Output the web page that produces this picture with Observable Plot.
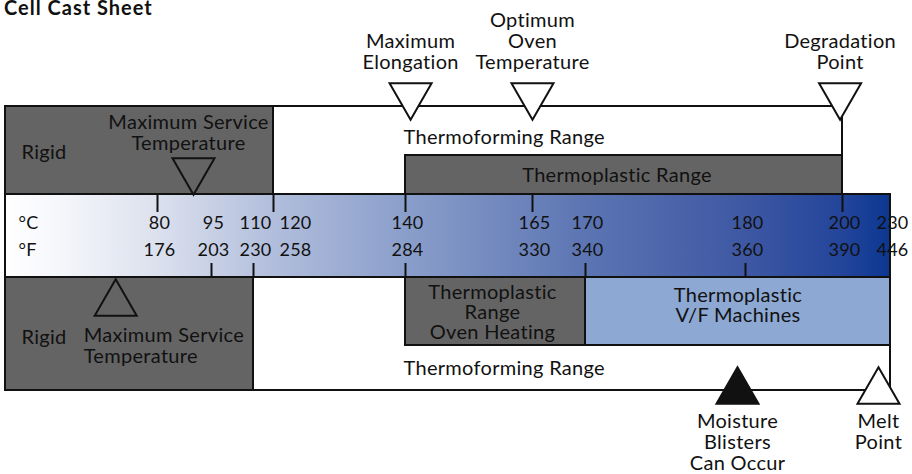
<!DOCTYPE html>
<html>
<head>
<meta charset="utf-8">
<script src="https://cdn.jsdelivr.net/npm/d3@7"></script>
<script src="https://cdn.jsdelivr.net/npm/@observablehq/plot@0.6"></script>
<style>
  body { margin: 0; background: #fff; font-family: Lato, sans-serif; }
  #title { height: 14px; line-height: 14px; font-weight: bold; font-size: 20px; letter-spacing: 1px; padding-left: 4px; color: #111; white-space: nowrap; }
  #chart svg { display: block; overflow: visible; }
</style>
</head>
<body>
<div id="title">Cell Cast Sheet</div>
<div id="chart"></div>
<script>
// ---- data ----
const celsius = [80, 95, 110, 120, 140, 165, 170, 180, 200, 230];
const fahrenheit = [176, 203, 230, 258, 284, 330, 340, 360, 390, 446];
const upperTicks = [80, 115, 140, 165, 200];
const lowerTicks = [95, 110, 140, 170, 180];

const upperRange = [{name: "Thermoforming Range", from: 0, to: 200}];
const upperRigid = [{name: "Rigid", from: 0, to: 115}];
const upperPlastic = [{name: "Thermoplastic Range", from: 140, to: 200}];

const lowerRange = [{name: "Thermoforming Range", from: 0, to: 230}];
const lowerRigid = [{name: "Rigid", from: 0, to: 110}];
const lowerOven = [{name: "Thermoplastic\nRange\nOven Heating", from: 140, to: 170}];
const lowerMachines = [{name: "Thermoplastic\nV/F Machines", from: 170, to: 230}];

const upperMarkers = [
  {label: "Maximum\nElongation", t: 141},
  {label: "Optimum\nOven\nTemperature", t: 165},
  {label: "Degradation\nPoint", t: 199.5}
];
const upperService = [{label: "Maximum Service\nTemperature", t: 90}];
const lowerService = [{label: "Maximum Service\nTemperature", t: 58}];
const lowerMarkers = [
  {label: "Moisture\nBlisters\nCan Occur", t: 179.5, filled: true},
  {label: "Melt\nPoint", t: 222.5, filled: false}
];

// ---- scales ----
const xScale = {
  type: "linear",
  domain: [0, 80, 95, 110, 120, 140, 165, 170, 180, 200, 230],
  range: [5, 157, 211, 253, 293, 405, 532, 585, 745, 842, 890],
  axis: null
};
const xs = Plot.scale({x: xScale});
const mid = (a, b) => xs.invert((xs.apply(a) + xs.apply(b)) / 2);

const INK = "#111";
const GRAY = "#646464";
const FS = 20;
const LH = 21 / FS;
const TRI_R = 15.6;

const gradient = () => {
  const ns = "http://www.w3.org/2000/svg";
  const defs = document.createElementNS(ns, "defs");
  const lg = document.createElementNS(ns, "linearGradient");
  lg.setAttribute("id", "bandGrad");
  lg.setAttribute("x1", "0"); lg.setAttribute("x2", "1");
  lg.setAttribute("y1", "0"); lg.setAttribute("y2", "0");
  [[0, "#ffffff"], [0.06, "#f6f7fb"], [0.17, "#dce1ee"], [0.30, "#b2bedc"],
   [0.45, "#8b9fcb"], [0.66, "#5b74b2"], [0.84, "#3d57a3"], [0.95, "#22449a"], [1, "#0b3791"]]
    .forEach(([o, c]) => {
      const s = document.createElementNS(ns, "stop");
      s.setAttribute("offset", o);
      s.setAttribute("stop-color", c);
      lg.appendChild(s);
    });
  defs.appendChild(lg);
  return defs;
};

const box = (data, y1, y2, fill) =>
  Plot.rect(data, {x1: "from", x2: "to", y1: () => y1, y2: () => y2, fill, stroke: INK, strokeWidth: 2});

const tickText = {fill: INK, fontSize: 18, style: "letter-spacing:0"};

const chart = Plot.plot({
  width: 912,
  height: 460,
  margin: 0,
  x: xScale,
  y: {type: "linear", domain: [14, 474], range: [0, 460], axis: null},
  style: {fontFamily: "Lato, sans-serif", fontSize: FS + "px", letterSpacing: "0.3px", color: INK, background: "white", overflow: "visible"},
  marks: [
    gradient,
    // upper section
    box(upperRange, 106, 194, "white"),
    box(upperRigid, 106, 194, GRAY),
    box(upperPlastic, 155, 194, GRAY),
    // lower section
    box(lowerRange, 277, 390, "white"),
    box(lowerRigid, 277, 390, GRAY),
    box(lowerOven, 277, 345, GRAY),
    box(lowerMachines, 277, 345, "#8ca8d3"),
    // temperature band
    Plot.rect([{from: 0, to: 230}], {x1: "from", x2: "to", y1: () => 194, y2: () => 277, fill: "url(#bandGrad)", stroke: INK, strokeWidth: 2}),
    Plot.ruleX(upperTicks, {x: d => d, y1: () => 194, y2: () => 212, stroke: INK, strokeWidth: 2}),
    Plot.ruleX(lowerTicks, {x: d => d, y1: () => 263, y2: () => 277, stroke: INK, strokeWidth: 2}),
    Plot.text(["°C"], {x: () => 0, y: () => 223, dx: 13, textAnchor: "start", text: d => d, ...tickText}),
    Plot.text(["°F"], {x: () => 0, y: () => 250, dx: 13, textAnchor: "start", text: d => d, ...tickText}),
    Plot.text(celsius, {x: d => d, y: () => 223, dx: 2, text: d => String(d), ...tickText}),
    Plot.text(fahrenheit, {x: (d, i) => celsius[i], y: () => 250, dx: 2, text: d => String(d), ...tickText}),
    // box labels
    Plot.text(upperRange, {x: () => 140, y: () => 137, textAnchor: "start", dx: -2, text: "name", fill: INK}),
    Plot.text(lowerRange, {x: () => 140, y: () => 368, textAnchor: "start", dx: -2, text: "name", fill: INK}),
    Plot.text(upperRigid, {x: "from", y: () => 152, textAnchor: "start", dx: 16, text: "name", fill: INK}),
    Plot.text(lowerRigid, {x: "from", y: () => 337, textAnchor: "start", dx: 16, text: "name", fill: INK}),
    Plot.text(upperPlastic, {x: d => mid(d.from, d.to), y: () => 175, dx: -7, text: "name", fill: INK}),
    Plot.text(lowerOven, {x: d => mid(d.from, d.to), y: () => 312, dx: -3, text: "name", lineHeight: 20 / FS, fill: INK}),
    Plot.text(lowerMachines, {x: d => mid(d.from, d.to), y: () => 305, text: "name", lineHeight: 20 / FS, fill: INK}),
    // markers
    Plot.text(upperService, {x: "t", y: () => 132.5, dx: -5, text: "label", lineHeight: LH, fill: INK}),
    Plot.dot(upperService, {x: "t", y: () => 170, symbol: "triangle", r: TRI_R, rotate: 180, fill: GRAY, stroke: INK, strokeWidth: 2}),
    Plot.text(lowerService, {x: "t", y: () => 345.5, dx: -32, textAnchor: "start", text: "label", lineHeight: LH, fill: INK}),
    Plot.dot(lowerService, {x: "t", y: () => 303, symbol: "triangle", r: TRI_R, fill: GRAY, stroke: INK, strokeWidth: 2}),
    Plot.dot(upperMarkers, {x: "t", y: () => 95, symbol: "triangle", r: TRI_R, rotate: 180, fill: "white", stroke: INK, strokeWidth: 2}),
    Plot.text(upperMarkers, {x: "t", y: () => 62, lineAnchor: "bottom", dy: 6, text: "label", lineHeight: LH, fill: INK}),
    Plot.dot(lowerMarkers, {x: "t", y: () => 391, symbol: "triangle", r: TRI_R, fill: d => d.filled ? INK : "white", stroke: INK, strokeWidth: 2}),
    Plot.text(lowerMarkers, {x: "t", y: () => 420, lineAnchor: "top", dy: -7, text: "label", lineHeight: LH, fill: INK})
  ]
});
document.getElementById("chart").appendChild(chart);
</script>
</body>
</html>
